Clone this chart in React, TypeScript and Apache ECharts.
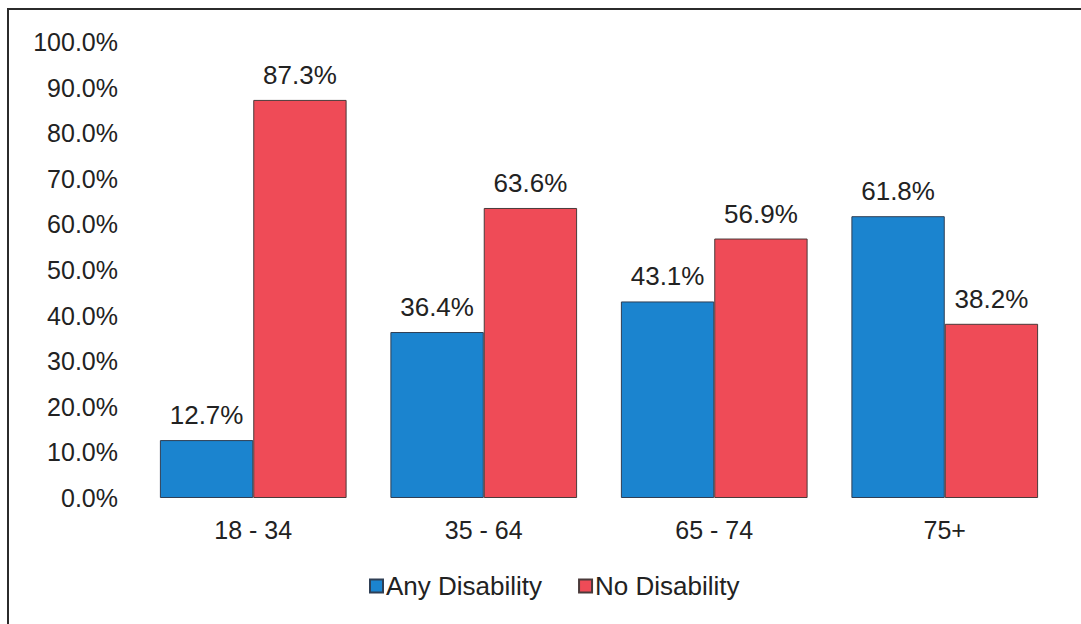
import React, { useEffect, useRef } from "react";
import * as echarts from "echarts";

const categories = ["18 - 34", "35 - 64", "65 - 74", "75+"];
const anyDisability = [12.7, 36.4, 43.1, 61.8];
const noDisability = [87.3, 63.6, 56.9, 38.2];
const seriesNames = ["Any Disability", "No Disability"];

export default function App() {
  const ref = useRef<HTMLDivElement>(null);
  useEffect(() => {
    document.body.style.margin = "0";
    const chart = echarts.init(ref.current!, null, { renderer: "svg" });
    const font = "'Liberation Sans', Arial, sans-serif";
    const label = {
      show: true,
      position: "top",
      distance: 12,
      fontSize: 26,
      fontFamily: font,
      color: "#222222",
      formatter: (p: any) => p.value.toFixed(1) + "%",
    };
    chart.setOption({
      animation: false,
      backgroundColor: "#ffffff",
      graphic: [
        {
          type: "rect",
          shape: { x: 8, y: 9, width: 1090, height: 640 },
          style: { fill: "none", stroke: "#2b2b2b", lineWidth: 2 },
          silent: true,
        },
      ],
      grid: { left: 138, right: 21, top: 42, bottom: 126 },
      legend: {
        bottom: 20,
        left: 364,
        itemWidth: 13,
        itemHeight: 13,
        itemGap: 36,
        icon: "rect",
        textStyle: { fontSize: 26, fontFamily: font, color: "#222222", padding: [0, 0, 0, -2] },
        data: seriesNames,
      },
      xAxis: {
        type: "category",
        data: categories,
        axisLine: { show: false },
        axisTick: { show: false },
        axisLabel: { fontSize: 25, fontFamily: font, color: "#222222", margin: 19 },
      },
      yAxis: {
        type: "value",
        min: 0,
        max: 100,
        interval: 10,
        splitLine: { show: false },
        axisLine: { show: false },
        axisTick: { show: false },
        axisLabel: {
          fontSize: 25,
          fontFamily: font,
          color: "#222222",
          margin: 20,
          formatter: (v: number) => v.toFixed(1) + "%",
        },
      },
      series: [
        {
          name: seriesNames[0],
          type: "bar",
          data: anyDisability,
          barGap: "0%",
          barCategoryGap: "19%",
          itemStyle: { color: "#1B84CF", borderColor: "#2f3f55", borderWidth: 1 },
          label,
        },
        {
          name: seriesNames[1],
          type: "bar",
          data: noDisability,
          itemStyle: { color: "#EF4B57", borderColor: "#4a3a3a", borderWidth: 1 },
          label,
        },
      ],
    });
    return () => chart.dispose();
  }, []);
  return <div ref={ref} style={{ position: "fixed", left: 0, top: 0, width: 1081, height: 624 }} />;
}
